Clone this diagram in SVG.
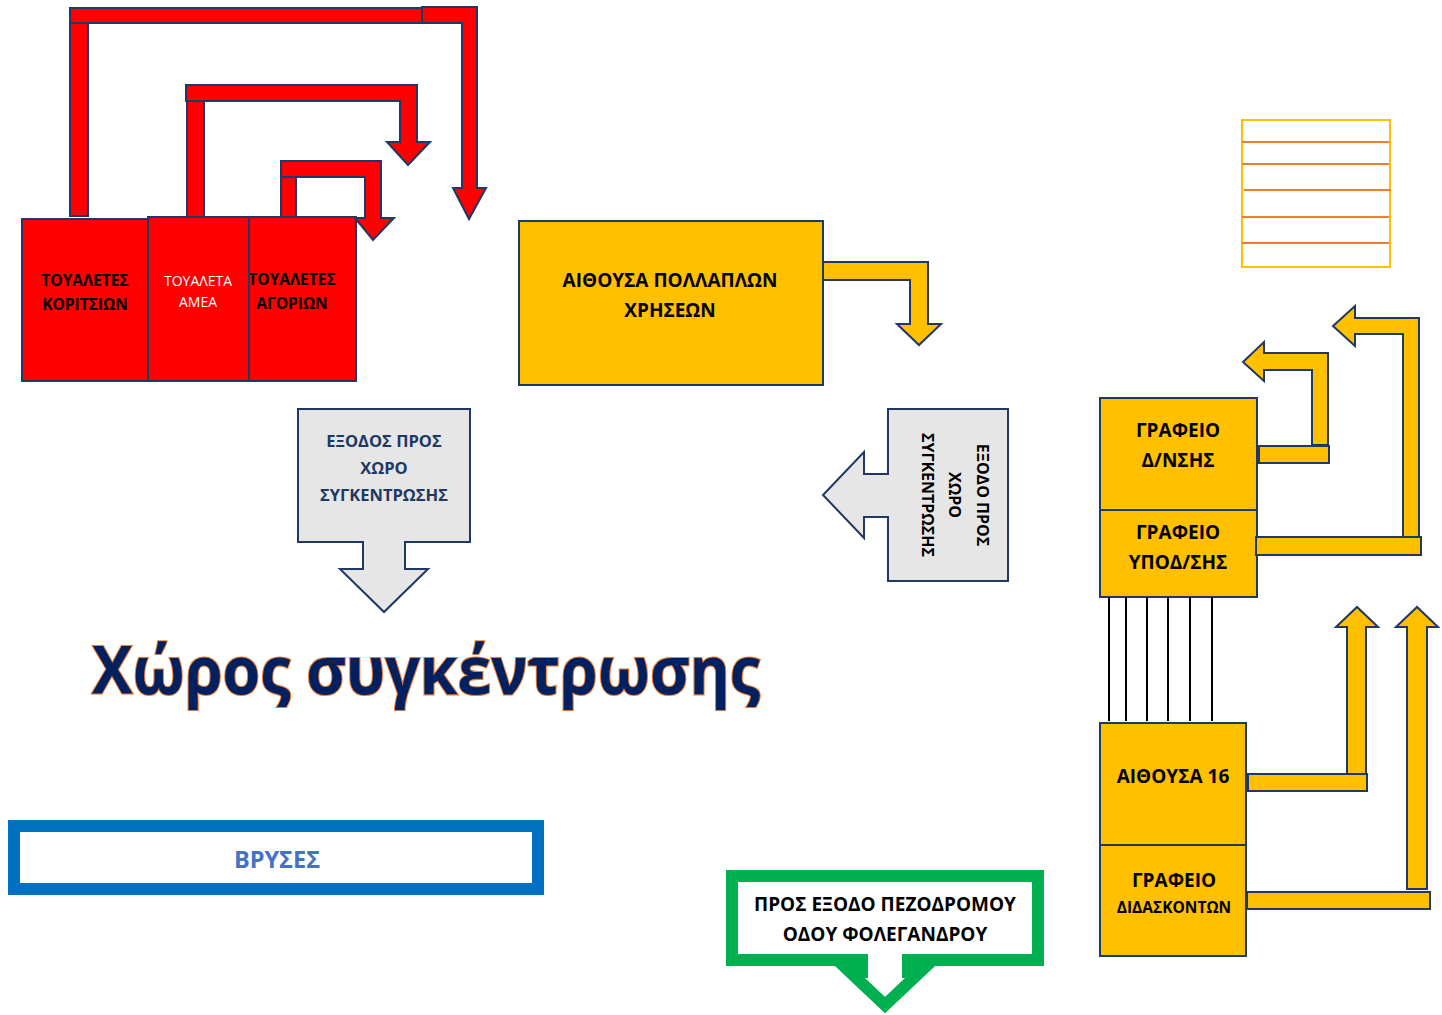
<svg xmlns="http://www.w3.org/2000/svg" width="1442" height="1015" viewBox="0 0 1442 1015">
<style>
.nv{stroke:#1F3864;stroke-width:2;stroke-linejoin:miter}
.red{fill:#FF0000}
.yel{fill:#FFC000}
.gry{fill:#E7E6E6}
text{font-family:"Open Sans","Noto Sans","DejaVu Sans",sans-serif;text-anchor:middle}
.b{font-weight:700}
.k{fill:#000000}
.w{fill:#FFFFFF}
.line{stroke:#000000;stroke-width:2}
.orl{stroke:#ED7D31;stroke-width:2}
</style>
<rect width="1442" height="1015" fill="#FFFFFF"/>

<g id="toilets-girls">
<rect class="red nv" x="22" y="219" width="126" height="162"/>
<text class="b k" x="85" y="286" font-size="15.5">ΤΟΥΑΛΕΤΕΣ</text>
<text class="b k" x="85" y="310" font-size="15.5">ΚΟΡΙΤΣΙΩΝ</text>
</g>
<g id="toilets-boys">
<rect class="red nv" x="228" y="217" width="128" height="164"/>
<text class="b k" x="292" y="285" font-size="15.5">ΤΟΥΑΛΕΤΕΣ</text>
<text class="b k" x="292" y="309" font-size="15.5">ΑΓΟΡΙΩΝ</text>
</g>
<g id="toilet-amea">
<rect class="red nv" x="148" y="217" width="101" height="164"/>
<text class="w" x="198" y="286" font-size="14">ΤΟΥΑΛΕΤΑ</text>
<text class="w" x="198" y="307" font-size="14">ΑΜΕΑ</text>
</g>

<g id="multipurpose-hall">
<rect class="yel nv" x="519" y="221" width="304" height="164"/>
<text class="b k" x="670" y="287" font-size="19">ΑΙΘΟΥΣΑ ΠΟΛΛΑΠΛΩΝ</text>
<text class="b k" x="670" y="317" font-size="19">ΧΡΗΣΕΩΝ</text>
</g>

<g id="exit-assembly-down">
<polygon class="gry nv" points="298,409 470,409 470,542 405,542 405,569 428,569 384,612 340,569 363,569 363,542 298,542"/>
<text class="b" fill="#203864" x="384" y="447" font-size="16.5">ΕΞΟΔΟΣ ΠΡΟΣ</text>
<text class="b" fill="#203864" x="384" y="474" font-size="16.5">ΧΩΡΟ</text>
<text class="b" fill="#203864" x="384" y="501" font-size="16.5">ΣΥΓΚΕΝΤΡΩΣΗΣ</text>
</g>

<g id="exit-assembly-left">
<polygon class="gry nv" points="888,409 1008,409 1008,581 888,581 888,517 864,517 864,538 823,495 864,452 864,474 888,474"/>
<g transform="translate(955,495) rotate(90)">
<text class="b k" x="0" y="-22" font-size="16">ΕΞΟΔΟ ΠΡΟΣ</text>
<text class="b k" x="0" y="6" font-size="16">ΧΩΡΟ</text>
<text class="b k" x="0" y="33" font-size="16">ΣΥΓΚΕΝΤΡΩΣΗΣ</text>
</g>
</g>

<g id="office-director">
<rect class="yel nv" x="1100" y="398" width="157" height="112"/>
<text class="b k" x="1178" y="437" font-size="19">ΓΡΑΦΕΙΟ</text>
<text class="b k" x="1178" y="467" font-size="19">Δ/ΝΣΗΣ</text>
</g>
<g id="office-subdirector">
<rect class="yel nv" x="1100" y="510" width="157" height="87"/>
<text class="b k" x="1178" y="539" font-size="19">ΓΡΑΦΕΙΟ</text>
<text class="b k" x="1178" y="569" font-size="19">ΥΠΟΔ/ΣΗΣ</text>
</g>
<g id="room-16">
<rect class="yel nv" x="1100" y="723" width="146" height="122"/>
<text class="b k" x="1173" y="783" font-size="19">ΑΙΘΟΥΣΑ 16</text>
</g>
<g id="office-teachers">
<rect class="yel nv" x="1100" y="845" width="146" height="111"/>
<text class="b k" x="1174" y="887" font-size="19">ΓΡΑΦΕΙΟ</text>
<text class="b k" x="1174" y="913" font-size="15.5">ΔΙΔΑΣΚΟΝΤΩΝ</text>
</g>

<g id="stairs-lines">
<line class="line" x1="1109" y1="597" x2="1109" y2="721"/>
<line class="line" x1="1126" y1="597" x2="1126" y2="721"/>
<line class="line" x1="1147" y1="597" x2="1147" y2="721"/>
<line class="line" x1="1168" y1="597" x2="1168" y2="721"/>
<line class="line" x1="1190" y1="597" x2="1190" y2="721"/>
<line class="line" x1="1212" y1="597" x2="1212" y2="721"/>
</g>

<g id="striped-box">
<rect x="1242" y="120" width="148" height="147" fill="none" stroke="#FFC000" stroke-width="2"/>
<line class="orl" x1="1242" y1="142" x2="1389" y2="142"/>
<line class="orl" x1="1242" y1="164" x2="1389" y2="164"/>
<line class="orl" x1="1244" y1="190" x2="1391" y2="190"/>
<line class="orl" x1="1242" y1="217" x2="1389" y2="217"/>
<line class="orl" x1="1242" y1="243" x2="1389" y2="243"/>
</g>

<g id="assembly-title">
<text class="b" x="426" y="694" font-size="66" fill="#002060" stroke="#ED7D31" stroke-width="2.2" paint-order="stroke" textLength="668" lengthAdjust="spacingAndGlyphs">Χώρος συγκέντρωσης</text>
</g>

<g id="fountains">
<rect x="14" y="826" width="524" height="63" fill="#FFFFFF" stroke="#0070C0" stroke-width="12"/>
<text class="b" x="277" y="868" font-size="23.5" fill="#4472C4">ΒΡΥΣΕΣ</text>
</g>

<g id="exit-street">
<path d="M732,876 H1038 V960 H908 V972 H920 L885,1005 L850,972 H862 V960 H732 Z" fill="#FFFFFF" stroke="#00B050" stroke-width="12"/>
<text class="b k" x="885" y="911" font-size="19">ΠΡΟΣ ΕΞΟΔΟ ΠΕΖΟΔΡΟΜΟΥ</text>
<text class="b k" x="885" y="941" font-size="19">ΟΔΟΥ ΦΟΛΕΓΑΝΔΡΟΥ</text>
</g>

<g id="connectors">
<rect class="red nv" x="70" y="22" width="18" height="194"/>
<rect class="red nv" x="70" y="8" width="352" height="15"/>
<polygon class="red nv" points="422,7 477,7 477,188 486,188 469,219 453,188 462,188 462,23 422,23"/>
<rect class="red nv" x="187" y="100" width="17" height="117"/>
<polygon class="red nv" points="186,85 417,85 417,142 430,142 408,165 387,142 400,142 400,101 186,101"/>
<rect class="red nv" x="281" y="176" width="15" height="41"/>
<polygon class="red nv" points="281,161 381,161 381,218 394,218 373,240 355,218 365,218 365,177 281,177"/>

<polygon class="yel nv" points="823,262 928,262 928,324 941,324 919,345 897,324 910,324 910,280 823,280"/>

<polygon class="yel nv" points="1312,445 1312,370 1264,370 1264,381 1243,362 1264,342 1264,353 1328,353 1328,445"/>
<rect class="yel nv" x="1259" y="446" width="70" height="17"/>
<polygon class="yel nv" points="1403,537 1403,334 1355,334 1355,346 1333,326 1355,306 1355,318 1419,318 1419,537"/>
<rect class="yel nv" x="1256" y="537" width="165" height="18"/>
<polygon class="yel nv" points="1347,774 1347,627 1336,627 1357,607 1378,627 1366,627 1366,774"/>
<rect class="yel nv" x="1248" y="774" width="119" height="17"/>
<polygon class="yel nv" points="1407,889 1407,627 1396,627 1417,607 1438,627 1427,627 1427,889"/>
<rect class="yel nv" x="1247" y="892" width="183" height="17"/>
</g>
</svg>
